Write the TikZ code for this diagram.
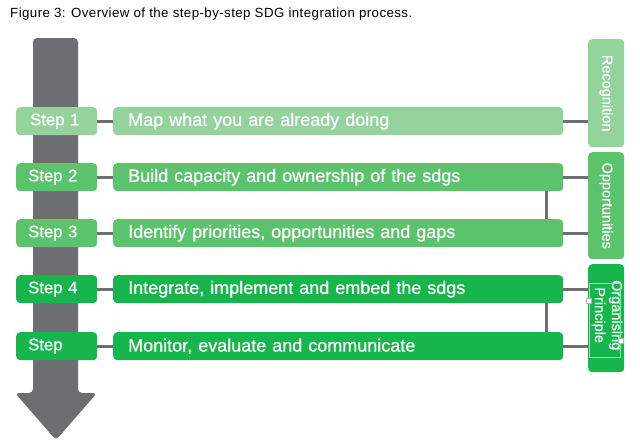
\documentclass[tikz,border=0pt]{standalone}
\usepackage{fontspec}
\setmainfont{Liberation Sans}
\newfontfamily\medfont[FakeBold=0.6]{Liberation Sans}
\definecolor{arrowgray}{HTML}{6D6E71}
\definecolor{gOne}{HTML}{94D49C}
\definecolor{gTwo}{HTML}{5CC36D}
\definecolor{gThree}{HTML}{17B64C}
\begin{document}
\begin{tikzpicture}[x=1pt,y=-1pt,
  stepbox/.style={rounded corners=4pt, minimum width=81pt, minimum height=28pt, inner sep=0pt, text=white, font=\medfont\fontsize{16.7}{18}\selectfont, anchor=north west, text width=57pt, align=left},
  textbox/.style={rounded corners=4pt, minimum width=450pt, minimum height=28pt, inner sep=0pt, text=white, font=\medfont\fontsize{18}{20}\selectfont, anchor=north west, text width=420pt, align=left},
  sidebox/.style={rounded corners=4pt, minimum width=36pt, inner sep=0pt, anchor=north west},
  sidelabel/.style={text=white, font=\medfont\fontsize{14.5}{16}\selectfont, rotate=-90, align=center},
  conn/.style={draw=arrowgray, line width=3pt}]
\useasboundingbox (0,0) rectangle (640,447);
% title
\node[anchor=west, inner sep=0pt, font=\fontsize{13.3}{14}\selectfont\addfontfeature{LetterSpace=3.2}] (title) at (10,14) {Figure 3: Overview of the step-by-step SDG integration process.};
% big gray arrow
\fill[arrowgray, rounded corners=4pt] (33,393) -- (33,38) -- (78,38) -- (78,393) -- (97,393) -- (56,440) -- (15,393) -- cycle;
\fill[arrowgray] (33,380) rectangle (78,400);
% step boxes
\node[stepbox, fill=gOne] (s1) at (16,107) {\hspace*{2pt}Step 1};
\node[stepbox, fill=gTwo] (s2) at (16,163) {Step 2};
\node[stepbox, fill=gTwo] (s3) at (16,219) {Step 3};
\node[stepbox, fill=gThree] (s4) at (16,275) {Step 4};
\node[stepbox, fill=gThree] (s5) at (16,332) {Step};
% text boxes
\node[textbox, fill=gOne] (t1) at (113,107) {Map what you are already doing};
\node[textbox, fill=gTwo] (t2) at (113,163) {Build capacity and ownership of the sdgs};
\node[textbox, fill=gTwo] (t3) at (113,219) {Identify priorities, opportunities and gaps};
\node[textbox, fill=gThree] (t4) at (113,275) {Integrate, implement and embed the sdgs};
\node[textbox, fill=gThree] (t5) at (113,332) {Monitor, evaluate and communicate};
% side boxes
\node[sidebox, fill=gOne, minimum height=108pt] (r1) at (588,39) {};
\node[sidebox, fill=gTwo, minimum height=107pt] (r2) at (588,152) {};
\node[sidebox, fill=gThree, minimum height=108pt] (r3) at (588,264) {};
\node[sidelabel] (l1) at (r1.center) {Recognition};
\node[sidelabel] (l2) at (r2.center) {Opportunities};
\node[sidelabel, font=\medfont\fontsize{14.5}{17}\selectfont] (l3) at ([xshift=1pt,yshift=3pt]r3.center) {Organising\\Principle};
% selection frame artefact
\draw[draw=gTwo!60!white, line width=0.5pt] (589,283) rectangle (620,357);
\node[draw=gray!60, fill=white, minimum size=5pt, inner sep=0pt, line width=0.4pt] (h1) at (589,301) {};
\node[draw=gray!60, fill=white, minimum size=5pt, inner sep=0pt, line width=0.4pt] (h2) at (621,341) {};
% connectors
\foreach \i in {1,...,5} {\draw[conn] (s\i.east) -- (t\i.west);}
\draw[conn] (t1.east) -- (t1.east -| r1.west);
\draw[conn] (t2.east) -- (t2.east -| r2.west);
\draw[conn] (t3.east) -- (t3.east -| r2.west);
\draw[conn] (t4.east) -- (t4.east -| r3.west);
\draw[conn] (t5.east) -- (t5.east -| r3.west);
\draw[conn] ([xshift=-17pt]t2.south east) -- ([xshift=-17pt]t3.north east);
\draw[conn] ([xshift=-17pt]t4.south east) -- ([xshift=-17pt]t5.north east);
\end{tikzpicture}
\end{document}
